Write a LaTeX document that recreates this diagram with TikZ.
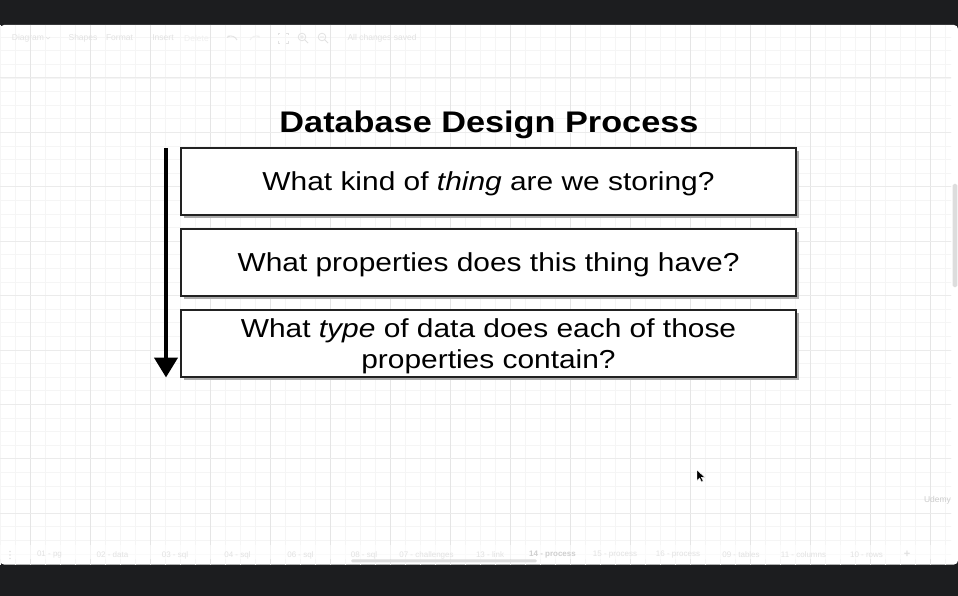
\documentclass[tikz,border=0pt]{standalone}
\usepackage{fontspec}
\setmainfont{Liberation Sans}[FakeStretch=1.15]
\newfontfamily\uifont{Liberation Sans}
\usetikzlibrary{arrows.meta,shadows}
\definecolor{band}{HTML}{1C1D1F}
\definecolor{gridminor}{HTML}{F5F5F5}
\definecolor{gridmajor}{HTML}{E5E5E5}
\definecolor{boxline}{HTML}{222222}
\definecolor{shadowc}{HTML}{ABABAB}
\definecolor{faint}{HTML}{E2E2E2}
\definecolor{faintdark}{HTML}{CFCFCF}
\definecolor{scrollc}{HTML}{DDDDDD}
\begin{document}
\begin{tikzpicture}[x=1pt,y=-1pt,
  stepbox/.style={draw=boxline, line width=1.4pt, fill=white,
    minimum width=615pt, minimum height=67pt, inner sep=0pt,
    font=\fontsize{26}{31}\selectfont, align=center, text depth=0pt,
    drop shadow={shadow xshift=3pt, shadow yshift=-3pt, fill=shadowc, opacity=1}},
  titletext/.style={font=\fontsize{29.8}{34}\selectfont\bfseries, inner sep=0pt},
  uitext/.style={font=\uifont\fontsize{8.5}{10}\selectfont, text=faint, inner sep=0pt},
  tabtext/.style={font=\uifont\fontsize{8}{10}\selectfont, text=faint, inner sep=0pt},
  flow/.style={line width=4.3pt, -{Triangle[width=23pt,length=20pt]}}
]
\useasboundingbox (0,0) rectangle (958,596);
% dark bands and canvas
\fill[band] (0,0) rectangle (958,596);
\fill[white, rounded corners=4pt] (0,25) rectangle (958,564.5);
% grid
\begin{scope}
\clip (0,25) rectangle (951,564.5);
\foreach \x in {0.3,15.3,...,958} \draw[gridminor, line width=0.7pt] (\x,25) -- (\x,565);
\foreach \y in {23.5,37.1,...,565} \draw[gridminor, line width=0.7pt] (0,\y) -- (958,\y);
\foreach \x in {30.3,90.3,...,958} \draw[gridmajor, line width=0.8pt] (\x,25) -- (\x,565);
\foreach \y in {23.5,77.9,...,565} \draw[gridmajor!60!gridminor, line width=0.8pt] (0,\y) -- (958,\y);
\end{scope}
% right scrollbar
\fill[scrollc, rounded corners=1.5pt] (952.7,184) rectangle (957.3,287);
% toolbar (faint)
\node[uitext] (tbdiagram) at (28,38) {Diagram};
\draw[faint, line width=0.6pt] (46,37) -- (48,39) -- (50,37);
\node[uitext] (tbshapes) at (83,38) {Shapes};
\node[uitext] (tbformat) at (119.5,38) {Format};
\node[uitext] (tbinsert) at (163,38) {Insert};
\node[uitext, text=faint!50] (tbdelete) at (196.5,38) {Delete};
\draw[faint, line width=0.9pt, -{Stealth[length=3pt]}] (237,40) to[bend right=60] (227,38);
\draw[faint!50, line width=0.9pt, -{Stealth[length=3pt]}] (250,40) to[bend left=60] (260,38);
\draw[faint, line width=0.8pt] (278,35) -- (278,33) -- (280,33) (286,33) -- (288,33) -- (288,35) (278,41) -- (278,43) -- (280,43) (286,43) -- (288,43) -- (288,41);
\draw[faint, line width=0.8pt] (302,37) circle (3.8pt) (304.8,39.8) -- (308,43) (300.2,37) -- (303.8,37) (302,35.2) -- (302,38.8);
\draw[faint, line width=0.8pt] (322,37) circle (3.8pt) (324.8,39.8) -- (328,43) (320.2,37) -- (323.8,37);
\node[uitext] (tbsaved) at (382,38) {All changes saved};
% bottom tab bar (faint)
\fill[white, opacity=0.55] (0,545) rectangle (958,559);
\foreach \d in {551.5,555,558.5} \fill[faint] (10,\d) circle (0.9pt);
\node[tabtext] (t01) at (49.5,555) {01 - pg};
\node[tabtext] (t02) at (112.5,555) {02 - data};
\node[tabtext] (t03) at (175,555) {03 - sql};
\node[tabtext] (t04) at (237.5,555) {04 - sql};
\node[tabtext] (t06) at (300.5,555) {06 - sql};
\node[tabtext] (t08) at (364,555) {08 - sql};
\node[tabtext] (t07) at (426.5,555) {07 - challenges};
\node[tabtext] (t13) at (490,555) {13 - link};
\node[tabtext, text=faintdark, font=\uifont\fontsize{8}{10}\selectfont\bfseries] (t14) at (552.5,555) {14 - process};
\node[tabtext] (t15) at (615,555) {15 - process};
\node[tabtext] (t16) at (678,555) {16 - process};
\node[tabtext] (t09) at (741,555) {09 - tables};
\node[tabtext] (t11) at (803.5,555) {11 - columns};
\node[tabtext] (t10) at (866.5,555) {10 - rows};
\node[tabtext, font=\uifont\fontsize{11}{12}\selectfont\bfseries] (tplus) at (907,554.5) {+};
\fill[scrollc, rounded corners=1.5pt] (351,559.3) rectangle (537,562.3);
% watermark
\node[font=\uifont\fontsize{8.5}{10}\selectfont, text=gray!40, inner sep=0pt] (udemy) at (937.5,500) {Udemy};
% cursor
\filldraw[fill=black, draw=white, line width=0.4pt] (697,470) -- (697,480.5) -- (699.6,478) -- (701.6,482) -- (703.2,481.2) -- (701.3,477.3) -- (704.8,477.3) -- cycle;
% diagram
\node[titletext] (title) at (489,125) {Database Design Process};
\node[stepbox] (b1) at (488.5,181.5) {What kind of \textit{thing} are we storing?};
\node[stepbox] (b2) at (488.5,262.5) {What properties does this thing have?};
\node[stepbox] (b3) at (488.5,343.5) {What \textit{type} of data does each of those\\properties contain?};
\coordinate (astart) at (166,148);
\coordinate (aend) at (166,377.5);
\draw[flow] (astart) -- (aend);
\end{tikzpicture}
\end{document}
